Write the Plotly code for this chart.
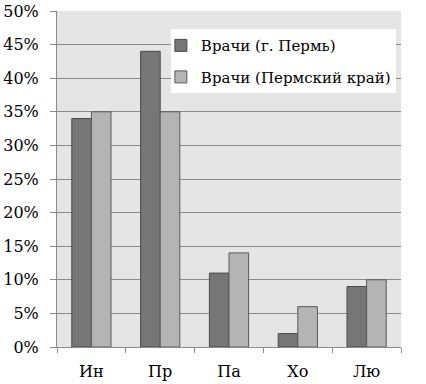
import plotly.graph_objects as go

categories = ["Ин", "Пр", "Па", "Хо", "Лю"]
perm_city = [34, 44, 11, 2, 9]
perm_krai = [35, 35, 14, 6, 10]
series_names = ["Врачи (г. Пермь)", "Врачи (Пермский край)"]
y_ticks = [0, 5, 10, 15, 20, 25, 30, 35, 40, 45, 50]
y_tick_labels = [f"{v}%" for v in y_ticks]

FONT = "DejaVu Serif"

fig = go.Figure()
fig.add_trace(go.Bar(x=categories, y=perm_city, name=series_names[0], legendgroup="a",
                     marker=dict(color="#767676", line=dict(color="#4a4a4a", width=1))))
fig.add_trace(go.Bar(x=categories, y=perm_krai, name=series_names[1], legendgroup="b",
                     marker=dict(color="#b4b4b4", line=dict(color="#5a5a5a", width=1))))

fig.update_layout(
    width=426, height=384,
    margin=dict(l=57, r=25, t=11, b=37, autoexpand=False),
    paper_bgcolor="white",
    plot_bgcolor="#e5e5e5",
    barmode="group",
    bargap=0.43,
    bargroupgap=0,
    font=dict(family=FONT, size=16, color="black"),
    legend=dict(x=0.331, y=0.946, xanchor="left", yanchor="top",
                bgcolor="white", font=dict(family=FONT, size=15),
                tracegroupgap=9, itemwidth=30, indentation=-10),
    showlegend=True,
)
fig.update_yaxes(range=[0, 50], tickvals=y_ticks, ticktext=y_tick_labels,
                 showgrid=True, gridcolor="#8a8a8a", gridwidth=1,
                 ticks="outside", ticklen=6, tickcolor="#8a8a8a",
                 showline=True, linecolor="#8a8a8a", zeroline=False,
                 automargin=False, ticklabelstandoff=8,
                 tickfont=dict(family=FONT, size=16))
fig.update_xaxes(tickson="boundaries", ticks="outside", ticklen=5, tickcolor="#8a8a8a",
                 showline=True, linecolor="#8a8a8a", mirror=False,
                 automargin=False, ticklabelstandoff=10,
                 showgrid=False, tickfont=dict(family=FONT, size=16))

fig.write_html("out.html", post_script="document.body.style.margin='0';",
               config={"displayModeBar": False})
